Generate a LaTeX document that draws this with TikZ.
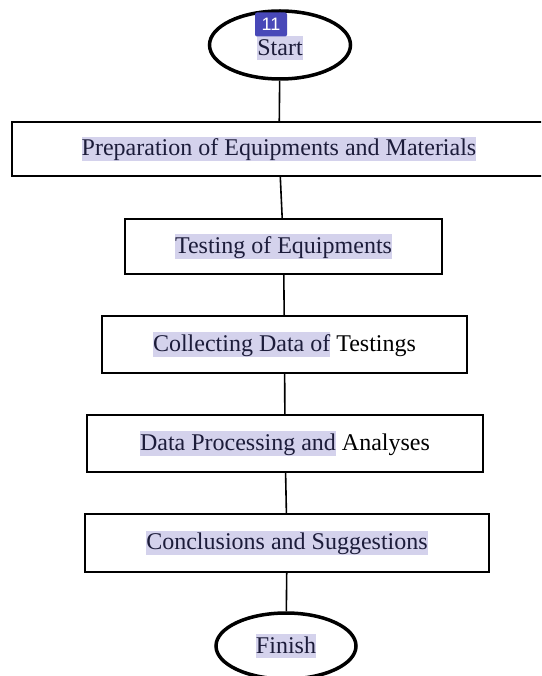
\documentclass[tikz,border=0pt]{standalone}
\usepackage{fontspec}
\setmainfont{Liberation Serif}
\newfontfamily\badgefont{Liberation Sans}
\usetikzlibrary{shapes.geometric}

\definecolor{hlback}{RGB}{212,210,236}
\definecolor{hltext}{RGB}{28,28,58}
\definecolor{badgeblue}{RGB}{72,72,184}
\newcommand{\hl}[1]{{\setlength{\fboxsep}{0pt}\colorbox{hlback}{\rule[-5pt]{0pt}{24pt}\color{hltext}#1}}}

\begin{document}
\begin{tikzpicture}[x=1pt, y=-1pt, font=\fontsize{24}{28}\selectfont,
    terminal/.style={ellipse, draw, line width=3.5pt, inner sep=0pt},
    process/.style={rectangle, draw, line width=1.8pt, inner sep=0pt}]
        \useasboundingbox (0, 0) rectangle (541, 676);
        \clip (0, 0) rectangle (541, 676);

        \node[terminal, minimum width=141pt, minimum height=68pt, text height=26pt, text depth=5pt] at (280, 45)(start){\hl{Start}};
        \node[process, minimum width=534pt, minimum height=54pt] at (279, 149)(prep){\hl{Preparation of Equipments and Materials}};
        \node[process, minimum width=317pt, minimum height=55pt] at (283.5, 246.5)(test){\hl{Testing of Equipments}};
        \node[process, minimum width=365pt, minimum height=57pt] at (284.5, 344.5)(collect){\hl{Collecting Data of} Testings};
        \node[process, minimum width=396pt, minimum height=57pt] at (285, 443.5)(proc){\hl{Data Processing and} Analyses};
        \node[process, minimum width=404pt, minimum height=58pt] at (287, 543)(concl){\hl{Conclusions and Suggestions}};
        \node[terminal, minimum width=140pt, minimum height=66pt] at (286, 646)(finish){\hl{Finish}};

        \path[line width=1.6pt]
        (start)edge(prep)
        (prep)edge(test)
        (test)edge(collect)
        (collect)edge(proc)
        (proc)edge(concl)
        (concl)edge(finish)
        ;

        \node[fill=badgeblue, rounded corners=2pt, text=white, font=\badgefont\fontsize{18}{20}\selectfont,
            minimum width=32pt, minimum height=24pt, inner sep=0pt] at (271, 24.5)(badge){11};
    \end{tikzpicture}
\end{document}
